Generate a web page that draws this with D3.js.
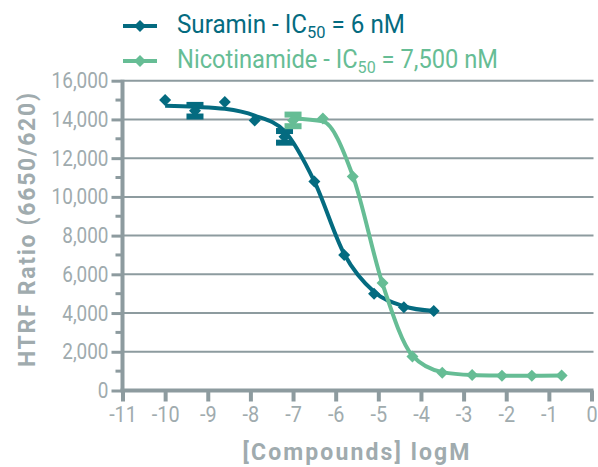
<!DOCTYPE html>
<html>
<head>
<meta charset="utf-8">
<script src="https://cdn.jsdelivr.net/npm/d3@7"></script>
<style>
  body { margin: 0; background: #fff; }
  svg text { font-family: Roboto, "DejaVu Sans Condensed", sans-serif; }
</style>
</head>
<body>
<svg width="598" height="467"></svg>
<script>
// log concentrations (5-fold dilutions)
const suraminX = [-10, -9.3, -8.6, -7.9, -7.2, -6.5, -5.8, -5.1, -4.4, -3.7];
const suraminY = [15000, 14450, 14900, 13950, 13100, 10800, 7000, 5000, 4300, 4100];
const suraminErr = [0, 300, 0, 0, 300, 0, 0, 0, 0, 0];
// fitted curve at the same concentrations
const suraminFit = [14700, 14650, 14550, 14200, 13400, 10800, 7050, 5100, 4350, 4100];

const nicoX = [-7.0, -6.3, -5.6, -4.9, -4.2, -3.5, -2.8, -2.1, -1.4, -0.7];
const nicoY = [13950, 14050, 11050, 5550, 1750, 920, 800, 760, 760, 780];
const nicoErr = [300, 0, 0, 0, 0, 0, 0, 0, 0, 0];
const nicoFit = [14050, 13900, 11100, 5500, 1800, 950, 800, 770, 760, 770];

const xTicks = [-11, -10, -9, -8, -7, -6, -5, -4, -3, -2, -1, 0];
const yTicks = [0, 2000, 4000, 6000, 8000, 10000, 12000, 14000, 16000];
const yMinor = [1000, 3000, 5000, 7000, 9000, 11000, 13000, 15000];

const teal = "#046b80", green = "#66bd95", axisGray = "#8d9b9f", labelGray = "#a0abae";

const svg = d3.select("svg");
const x = d3.scaleLinear().domain([-11, 0]).range([122.5, 591.5]);
const y = d3.scaleLinear().domain([0, 16000]).range([390.5, 80.7]);

// squeeze text horizontally, the original font is a condensed one
function condense(sel, k) {
  sel.each(function () {
    const w = this.getComputedTextLength();
    d3.select(this).attr("textLength", w * k).attr("lengthAdjust", "spacingAndGlyphs");
  });
}

// gridlines
svg.append("g").selectAll("line")
  .data(yTicks.filter(d => d > 0))
  .enter().append("line")
  .attr("x1", x(-11)).attr("x2", x(0) + 2)
  .attr("y1", d => y(d)).attr("y2", d => y(d))
  .attr("stroke", axisGray).attr("stroke-width", 2);

// y axis
let yAxis = svg.append("g").attr("transform", "translate(" + x(-11) + ",0)")
  .call(d3.axisLeft(y).tickValues(yTicks).tickSize(11).tickPadding(3)
    .tickFormat(d3.format(",")));
yAxis.select(".domain").remove();
yAxis.selectAll(".tick line").attr("stroke", axisGray).attr("stroke-width", 3);
yAxis.selectAll(".tick text").attr("fill", labelGray).attr("font-size", 22)
  .attr("font-family", "Roboto, sans-serif").call(condense, 0.86);
yAxis.append("g").selectAll("line").data(yMinor).enter().append("line")
  .attr("x1", -7).attr("x2", 0).attr("y1", d => y(d)).attr("y2", d => y(d))
  .attr("stroke", axisGray).attr("stroke-width", 3);
yAxis.append("line").attr("x1", 0).attr("x2", 0)
  .attr("y1", y(16000) - 1).attr("y2", y(0))
  .attr("stroke", axisGray).attr("stroke-width", 4);

// x axis
let xAxis = svg.append("g").attr("transform", "translate(0," + y(0) + ")")
  .call(d3.axisBottom(x).tickValues(xTicks).tickSize(11).tickPadding(5)
    .tickFormat(d => String(d)));
xAxis.select(".domain").remove();
xAxis.selectAll(".tick line").attr("stroke", axisGray).attr("stroke-width", 4);
xAxis.selectAll(".tick text").attr("fill", labelGray).attr("font-size", 22)
  .attr("font-family", "Roboto, sans-serif").call(condense, 0.9);
xAxis.append("line").attr("x1", x(-11) - 2).attr("x2", x(0) + 2)
  .attr("y1", 0).attr("y2", 0)
  .attr("stroke", axisGray).attr("stroke-width", 4);

// axis titles
svg.append("text")
  .attr("transform", "translate(35,230) rotate(-90)")
  .attr("text-anchor", "middle")
  .attr("font-size", 23).attr("font-weight", "bold")
  .attr("fill", labelGray)
  .attr("textLength", 274).attr("lengthAdjust", "spacing")
  .text("HTRF Ratio (6650/620)");

svg.append("text")
  .attr("x", 356).attr("y", 460)
  .attr("text-anchor", "middle")
  .attr("font-size", 23).attr("font-weight", "bold")
  .attr("fill", labelGray)
  .attr("textLength", 227).attr("lengthAdjust", "spacing")
  .text("[Compounds] logM");

// series
const diamond = d3.symbol().type(d3.symbolSquare).size(72);

function drawSeries(xs, ys, errs, fit, color) {
  const g = svg.append("g");
  const line = d3.line().curve(d3.curveMonotoneX)
    .x(d => x(d[0])).y(d => y(d[1]));
  g.append("path")
    .datum(xs.map((v, i) => [v, fit[i]]))
    .attr("d", line)
    .attr("fill", "none").attr("stroke", color).attr("stroke-width", 4);

  const pts = xs.map((v, i) => ({ x: v, y: ys[i], e: errs[i] }));
  const eb = g.selectAll(".err").data(pts.filter(d => d.e > 0)).enter().append("g");
  eb.append("line")
    .attr("x1", d => x(d.x)).attr("x2", d => x(d.x))
    .attr("y1", d => y(d.y + d.e)).attr("y2", d => y(d.y - d.e))
    .attr("stroke", color).attr("stroke-width", 4);
  [1, -1].forEach(s => {
    eb.append("rect")
      .attr("x", d => x(d.x) - 8.5).attr("width", 17)
      .attr("y", d => y(d.y + s * d.e) - 3).attr("height", 6)
      .attr("fill", color);
  });
  g.selectAll(".pt").data(pts).enter().append("path")
    .attr("d", diamond)
    .attr("transform", d => "translate(" + x(d.x) + "," + y(d.y) + ") rotate(45)")
    .attr("fill", color);
}

drawSeries(suraminX, suraminY, suraminErr, suraminFit, teal);
drawSeries(nicoX, nicoY, nicoErr, nicoFit, green);

// legend
const legendItems = [
  { name: "Suramin - IC", after: " = 6 nM", color: teal, y: 26, w: 228 },
  { name: "Nicotinamide - IC", after: " = 7,500 nM", color: green, y: 61, w: 321 }
];
legendItems.forEach(it => {
  svg.append("line").attr("x1", 123).attr("x2", 157)
    .attr("y1", it.y).attr("y2", it.y)
    .attr("stroke", it.color).attr("stroke-width", 4);
  svg.append("path").attr("d", diamond)
    .attr("transform", "translate(140," + it.y + ") rotate(45)")
    .attr("fill", it.color);
  const g = svg.append("g");
  const t = g.append("text").attr("x", 0).attr("y", 0)
    .attr("font-size", 25).attr("fill", it.color);
  t.append("tspan").text(it.name);
  t.append("tspan").attr("font-size", 17).attr("dy", 5).text("50");
  t.append("tspan").attr("dy", -5).text(it.after);
  const k = it.w / t.node().getComputedTextLength();
  g.attr("transform", "translate(177," + (it.y + 7) + ") scale(" + k + ",1)");
});
</script>
</body>
</html>
